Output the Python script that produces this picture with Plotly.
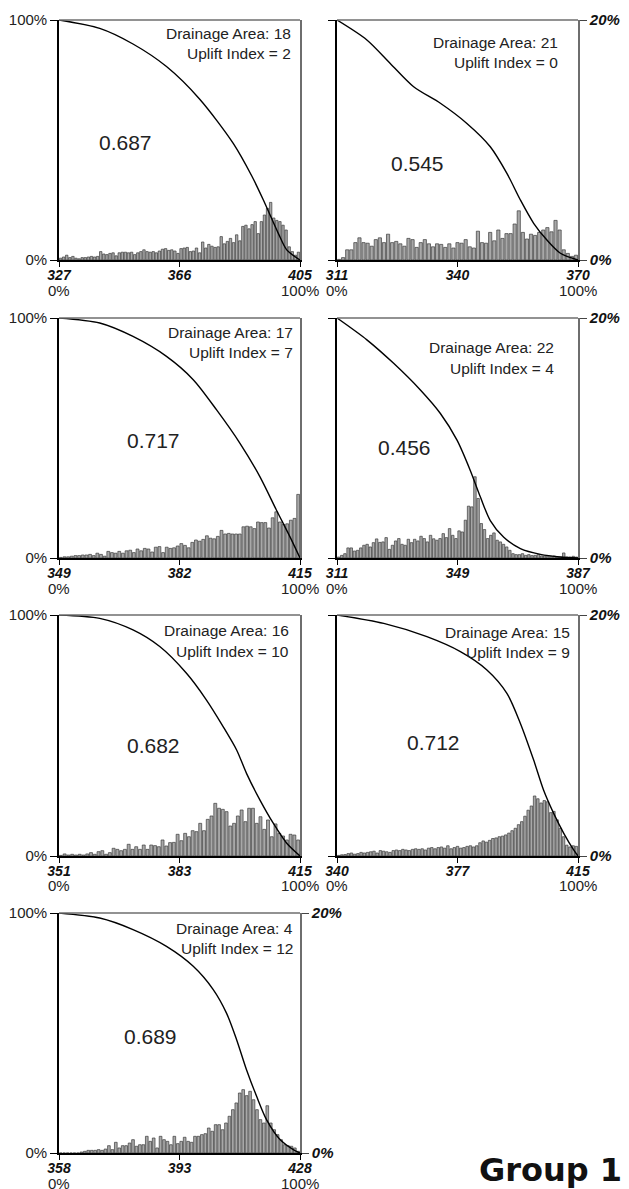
import plotly.graph_objects as go

# ---------------- data ----------------
elev_min = [327, 311, 349, 311, 351, 340, 358]
elev_max = [405, 370, 415, 387, 415, 415, 428]
elev_mid_label = ["366", "340", "382", "349", "383", "377", "393"]
drainage_area = [18, 21, 17, 22, 16, 15, 4]
uplift_index = [2, 0, 7, 4, 10, 9, 12]
hypsometric_integral = ["0.687", "0.545", "0.717", "0.456", "0.682", "0.712", "0.689"]

# elevation histograms, % of area per 1 m bin (right axis)
hist_1 = [0.15, 0.25, 0.4, 0.2, 0.3, 0.15, 0.1, 0.2, 0.2, 0.25, 0.3, 0.25, 0.3, 0.7, 0.5, 0.45,
          0.55, 0.6, 0.35, 0.6, 0.65, 0.65, 0.6, 0.65, 0.45, 0.6, 0.7, 0.85, 0.7, 0.65, 0.7, 0.6,
          0.75, 0.9, 0.95, 0.8, 0.85, 0.75, 0.55, 0.95, 1.0, 1.05, 0.7, 0.75, 1.0, 0.6, 1.5, 1.0,
          1.3, 1.15, 1.05, 1.1, 1.95, 1.35, 1.55, 1.8, 1.45, 2.1, 1.6, 2.8, 2.9, 2.6, 2.95, 3.2,
          2.2, 3.2, 3.75, 4.3, 4.8, 3.5, 3.3, 3.2, 2.9, 2.5, 1.1, 0.7, 0.4, 0.65]
hist_2 = [0.05, 0.2, 0.85, 0.85, 1.45, 1.85, 1.45, 1.4, 1.15, 1.7,
          1.85, 1.45, 2.15, 1.45, 1.55, 1.35, 1.15, 1.8, 1.7, 1.05,
          1.45, 1.7, 1.35, 1.1, 1.35, 1.3, 1.05, 1.35, 1.0, 1.45,
          1.4, 1.7, 1.1, 1.0, 2.4, 1.45, 1.4, 2.3, 1.6, 2.5,
          1.8, 2.2, 2.2, 3.0, 4.1, 2.3, 1.75, 2.15, 2.05, 2.3,
          2.5, 2.7, 2.35, 3.3, 2.5, 0.85, 0.55, 0.3, 0.4]
hist_3 = [0.05, 0.1, 0.1, 0.15, 0.2, 0.2, 0.25, 0.25, 0.3, 0.2, 0.4, 0.3, 0.15, 0.55, 0.45, 0.4,
          0.55, 0.4, 0.6, 0.65, 0.45, 0.75, 0.6, 0.8, 0.75, 0.5, 0.9, 0.95, 0.45, 0.9, 0.8, 0.85,
          1.0, 1.2, 1.05, 0.85, 1.3, 1.5, 1.4, 1.55, 1.85, 1.65, 1.6, 1.8, 2.3, 2.0, 2.05, 2.0,
          2.0, 2.0, 2.6, 2.65, 2.6, 2.45, 3.0, 2.95, 2.95, 2.5, 3.35, 3.85, 3.0, 2.8, 2.85, 3.15,
          3.3, 5.3]
hist_4 = [0.08, 0.22, 0.36, 0.84, 0.84, 0.58, 0.64, 0.84, 1.06, 1.14, 0.92, 1.28, 1.59, 1.3,
          1.34, 1.7, 0.72, 1.06, 1.42, 1.62, 1.14, 1.06, 1.56, 1.28, 1.56, 1.42, 1.81, 1.62, 1.34,
          1.89, 1.6, 1.48, 1.62, 2.03, 1.7, 2.45, 1.89, 1.62, 2.26, 2.17, 3.15, 4.32, 4.26, 6.77,
          4.96, 2.87, 2.37, 1.62, 1.89, 2.09, 1.48, 1.34, 1.14, 0.92, 0.64, 0.36, 0.28, 0.28, 0.36,
          0.22, 0.28, 0.2, 0.22, 0.28, 0.17, 0.17, 0.15, 0.14, 0.17, 0.08, 0.08, 0.42, 0.08, 0.08,
          0.14, 0.08]
hist_5 = [0.05, 0.17, 0.08, 0.14, 0.08, 0.14, 0.08, 0.17, 0.28, 0.14, 0.36, 0.44, 0.14, 0.28,
          0.64, 0.55, 0.44, 0.55, 0.97, 0.55, 0.77, 0.55, 0.91, 0.55, 0.91, 0.86, 0.77, 1.33, 0.83,
          1.11, 1.13, 1.8, 1.27, 1.88, 1.6, 2.1, 2.02, 2.71, 2.1, 3.04, 3.32, 4.37, 3.96, 3.87, 3.68,
          2.49, 2.71, 3.32, 3.82, 2.85, 3.96, 3.96, 2.71, 3.26, 2.21, 2.99, 1.6, 2.66, 1.88, 1.66,
          1.33, 1.8, 1.74, 1.33]
hist_6 = [0.05, 0.1, 0.12, 0.2, 0.25, 0.15, 0.2, 0.3, 0.25, 0.3, 0.35, 0.4, 0.25, 0.45, 0.4,
          0.35, 0.3, 0.45, 0.5, 0.45, 0.55, 0.5, 0.45, 0.55, 0.6, 0.55, 0.6, 0.5, 0.65, 0.7, 0.6,
          0.7, 0.75, 0.65, 0.85, 0.6, 0.7, 0.8, 0.65, 0.7, 0.8, 0.85, 0.75, 0.85, 1.1, 1.25, 1.15,
          1.3, 1.45, 1.5, 1.6, 1.65, 1.75, 1.9, 2.1, 2.3, 2.6, 2.85, 3.3, 3.8, 4.15, 4.98, 4.75,
          4.4, 4.6, 4.5, 3.6, 3.7, 3.0, 2.3, 1.6, 0.9, 0.75, 0.85, 0.8]
hist_7 = [0.0, 0.0, 0.0, 0.0, 0.0, 0.0, 0.08, 0.14, 0.22, 0.22, 0.22, 0.28, 0.22, 0.33, 0.61,
          0.28, 0.89, 0.42, 0.61, 0.61, 0.83, 1.11, 0.56, 0.69, 0.69, 1.39, 0.97, 1.25, 0.42, 1.39,
          1.11, 0.97, 0.69, 1.39, 0.78, 0.97, 1.31, 0.97, 0.89, 1.39, 1.39, 1.53, 1.61, 2.08, 1.81,
          2.36, 2.36, 1.94, 2.5, 3.06, 3.61, 4.17, 5.0, 5.28, 4.78, 5.14, 4.44, 3.61, 2.78, 2.5,
          3.94, 2.5, 1.94, 1.53, 1.11, 0.69, 0.61, 0.56, 0.42, 0.14]
histograms = [hist_1, hist_2, hist_3, hist_4, hist_5, hist_6, hist_7]

# hypsometric curves: relative position (%) along x vs relative area (%) (left axis)
curve_x_1 = [0, 16.9, 30.7, 44.6, 58.4, 72.3, 80, 84.8, 91, 94.5, 100]
curve_y_1 = [100, 96.5, 90, 80.6, 67, 48.6, 35, 25, 11.1, 4.2, 0]
curve_x_2 = [0, 12.4, 22.1, 31.8, 42.9, 53.9, 63.6, 70.5, 76.1, 81.6, 87.1, 92.7, 100]
curve_y_2 = [100, 91.7, 81.9, 72.2, 65.3, 56.9, 47.2, 36.1, 25, 15.3, 8.3, 2.8, 0]
curve_x_3 = [0, 16.9, 30.7, 44.6, 55.7, 65.4, 75.1, 83.4, 90.3, 95.8, 100]
curve_y_3 = [100, 97.9, 92.3, 84, 74.3, 61.7, 47.8, 33.8, 19.8, 8.9, 0]
curve_x_4 = [0, 12.4, 23.5, 34.6, 42.9, 49.8, 55.3, 59.5, 63.6, 69.2, 76.1, 84.4, 92.7, 100]
curve_y_4 = [100, 90.9, 81.1, 70, 60.2, 49.1, 36.5, 25.4, 15.6, 8.6, 3.9, 1.5, 0.4, 0]
curve_x_5 = [0, 16.9, 30.7, 41.8, 52.9, 61.2, 68.1, 73.7, 77.8, 83.4, 88.9, 94.5, 100]
curve_y_5 = [100, 98.6, 93.8, 86.9, 75.8, 64.7, 53.7, 44, 34.3, 23.2, 13.6, 5.3, 0]
curve_x_6 = [0, 19.4, 37.3, 51.2, 62.2, 70.5, 76.1, 81.6, 85.7, 89.9, 94.1, 98.2, 100]
curve_y_6 = [100, 96.5, 91, 84.8, 77.2, 67.5, 55, 39.8, 27.4, 17.7, 9.4, 2.5, 0]
curve_x_7 = [0, 16.9, 30.7, 44.6, 55.7, 64, 69.5, 73.7, 77.8, 82, 86.1, 91.7, 97.2, 100]
curve_y_7 = [100, 97.9, 93.1, 86.1, 77.8, 68.1, 58.3, 47.2, 34.7, 23.6, 13.9, 5.6, 1.4, 0]
curves_x = [curve_x_1, curve_x_2, curve_x_3, curve_x_4, curve_x_5, curve_x_6, curve_x_7]
curves_y = [curve_y_1, curve_y_2, curve_y_3, curve_y_4, curve_y_5, curve_y_6, curve_y_7]

left_ticks = ["0%", "100%"]
right_ticks = ["0%", "20%"]
bottom_pct_ticks = ["0%", "100%"]
group_label = "Group 1"

# ---------------- layout / style ----------------
W, H = 629, 1189
FONT = "Arial, 'Liberation Sans', sans-serif"
col_px = [(59, 300), (337, 578)]
row_px = [(20, 260), (318, 558), (615, 856), (913, 1153)]
grid = [(0, 0), (0, 1), (1, 0), (1, 1), (2, 0), (2, 1), (3, 0)]
label_right_off = [7, 18, 5, 22, 9, 6, 5]
label_line1 = [13, 22, 14, 29, 15, 17, 15]
label_line2 = [33, 42, 34, 50, 36, 37, 35]
hi_pos = [(0.278, 0.49), (0.336, 0.404), (0.394, 0.49), (0.282, 0.4625),
          (0.394, 0.46), (0.40, 0.473), (0.38, 0.4875)]
show_right_labels = [False, True, False, True, False, True, True]

fig = go.Figure()
layout = dict(width=W, height=H, margin=dict(l=0, r=0, t=0, b=0, pad=0, autoexpand=False),
              autosize=False, paper_bgcolor="white", plot_bgcolor="white", showlegend=False,
              font=dict(family=FONT, color="#1a1a1a"))
annotations = []
shapes = []

for p in range(7):
    r, c = grid[p]
    xd = [col_px[c][0] / W, col_px[c][1] / W]
    yd = [1 - row_px[r][1] / H, 1 - row_px[r][0] / H]
    xe = "x" if p == 0 else f"x{p + 1}"
    yh = "y" if p == 0 else f"y{2 * p + 1}"
    yc = f"y{2 * p + 2}"
    xkey = "xaxis" if p == 0 else f"xaxis{p + 1}"
    yhkey = "yaxis" if p == 0 else f"yaxis{2 * p + 1}"
    yckey = f"yaxis{2 * p + 2}"
    emin, emax = elev_min[p], elev_max[p]

    layout[xkey] = dict(
        domain=xd, anchor=yh, range=[emin, emax], showgrid=False, zeroline=False,
        showline=True, linecolor="black", linewidth=1.6, ticks="outside", ticklen=5,
        tickwidth=1.2, tickcolor="black", automargin=False, ticklabelstandoff=-4,
        tickvals=[emin, (emin + emax) / 2, emax],
        ticktext=[str(emin), elev_mid_label[p], str(emax)],
        tickfont=dict(size=14, family=FONT, weight="bold", style="italic", color="#111"),
        layer="above traces", fixedrange=True)
    # histogram axis (main, right side)
    layout[yhkey] = dict(
        domain=yd, anchor=xe, side="right", range=[0, 20], showgrid=False,
        zeroline=False, showline=True, linecolor="#6e6e6e", linewidth=1.6,
        ticks="outside" if show_right_labels[p] else "", ticklen=7, tickwidth=1.2,
        tickcolor="#444", tickvals=[0, 20], ticktext=right_ticks, automargin=False,
        showticklabels=show_right_labels[p],
        tickfont=dict(size=15, family=FONT, weight="bold", style="italic", color="#111"),
        layer="above traces", fixedrange=True)
    # cumulative curve axis (overlay, left side)
    layout[yckey] = dict(
        overlaying=yh, anchor=xe, side="left", range=[0, 100], showgrid=False,
        zeroline=False, showline=True, linecolor="black", linewidth=1.6, ticks="outside",
        ticklen=7, tickwidth=1.2, tickcolor="black", tickvals=[0, 100], ticktext=left_ticks,
        showticklabels=(c == 0), automargin=False,
        tickfont=dict(size=15, family=FONT, color="#222"),
        layer="above traces", fixedrange=True)

    vals = histograms[p]
    centers = [emin + 0.5 + i for i in range(len(vals))]
    fig.add_trace(go.Bar(x=centers, y=vals, width=0.78, xaxis=xe, yaxis=yh,
                         marker=dict(color="#a8a8a8", line=dict(color="#3c3c3c", width=0.7)),
                         hoverinfo="skip"))
    span = emax - emin
    cx = [emin + v / 100 * span for v in curves_x[p]]
    fig.add_trace(go.Scatter(x=cx, y=curves_y[p], mode="lines", xaxis=xe, yaxis=yc,
                             line=dict(color="black", width=1.4, shape="spline", smoothing=0.8),
                             hoverinfo="skip"))

    shapes.append(dict(type="line", xref=f"{xe} domain", yref=f"{yh} domain",
                       x0=0, x1=1, y0=1, y1=1, line=dict(color="#6e6e6e", width=1.6),
                       layer="above"))

    for xx, txt in zip([0, 1], bottom_pct_ticks):
        annotations.append(dict(xref=f"{xe} domain", yref=f"{yh} domain", x=xx, y=0,
                                xanchor="center", yanchor="middle", yshift=-30,
                                showarrow=False, text=txt,
                                font=dict(size=15, family=FONT, color="#222")))
    annotations.append(dict(xref=f"{xe} domain", yref=f"{yh} domain", x=1, y=1,
                            xanchor="right", yanchor="middle", xshift=-label_right_off[p],
                            yshift=-label_line1[p], showarrow=False,
                            text=f"Drainage Area: {drainage_area[p]}",
                            font=dict(size=15.5, family=FONT, color="#222")))
    annotations.append(dict(xref=f"{xe} domain", yref=f"{yh} domain", x=1, y=1,
                            xanchor="right", yanchor="middle", xshift=-label_right_off[p],
                            yshift=-label_line2[p], showarrow=False,
                            text=f"Uplift Index = {uplift_index[p]}",
                            font=dict(size=15.5, family=FONT, color="#222")))
    annotations.append(dict(xref=f"{xe} domain", yref=f"{yh} domain",
                            x=hi_pos[p][0], y=hi_pos[p][1], xanchor="center", yanchor="middle",
                            showarrow=False, text=hypsometric_integral[p],
                            font=dict(size=21, family=FONT, color="#222")))

annotations.append(dict(xref="paper", yref="paper", x=550 / W, y=1 - 1170 / H,
                        xanchor="center", yanchor="middle", showarrow=False, text=group_label,
                        font=dict(size=32, family="'DejaVu Sans', Arial, sans-serif",
                                  weight="bold", color="#111")))

layout["annotations"] = annotations
layout["shapes"] = shapes
fig.update_layout(**layout)
fig.write_html("out.html", config={"displayModeBar": False},
               post_script="document.body.style.margin='0px';document.body.style.overflow='hidden';")
